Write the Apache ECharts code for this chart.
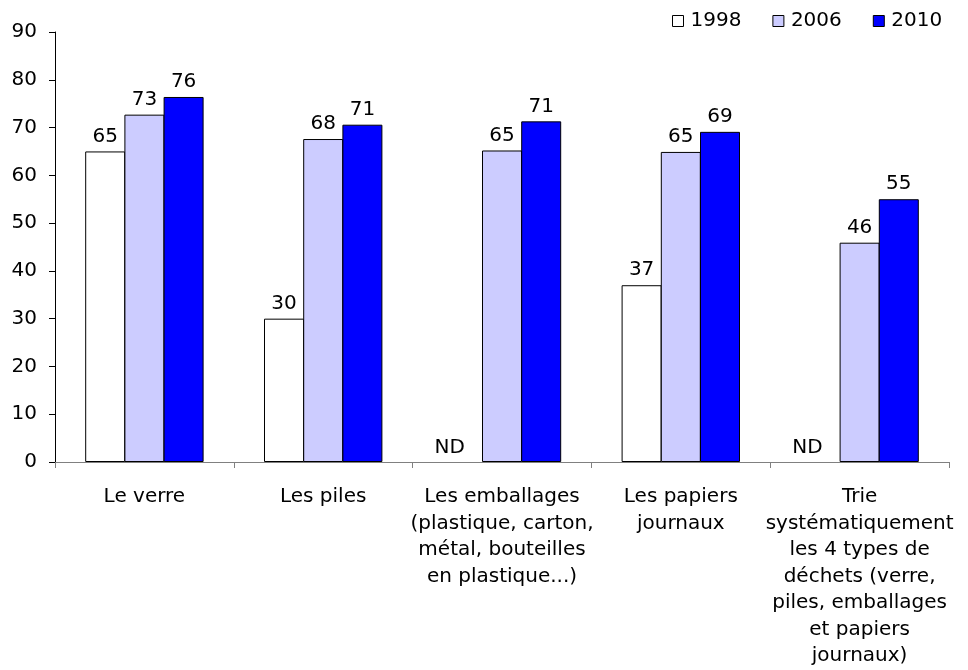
<!DOCTYPE html>
<html>
<head>
<meta charset="utf-8">
<script src="https://cdn.jsdelivr.net/npm/echarts@6/dist/echarts.min.js"></script>
<style>
  html, body { margin: 0; padding: 0; background: #fff; }
</style>
</head>
<body>
<div id="main" style="width:968px;height:670px"></div>
<script>
// categories (line breaks as in the original)
var categories = [
  "Le verre",
  "Les piles",
  "Les emballages\n(plastique, carton,\nmétal, bouteilles\nen plastique...)",
  "Les papiers\njournaux",
  "Trie\nsystématiquement\nles 4 types de\ndéchets (verre,\npiles, emballages\net papiers\njournaux)"
];
var years = ["1998", "2006", "2010"];
// bar heights; labels show them rounded. null = ND
var values1998 = [65, 30, null, 37, null];
var values2006 = [72.7, 67.6, 65.2, 64.9, 45.9];
var values2010 = [76.4, 70.6, 71.3, 69.1, 55];
var yTicks = { min: 0, max: 90, interval: 10 };

var FONT = "DejaVu Sans";
var colors = ["#FFFFFF", "#CCCCFF", "#0000FF"];

function toData(arr) {
  return arr.map(function (v) {
    if (v === null) {
      return {
        value: 0,
        itemStyle: { borderWidth: 0 },
        label: { formatter: "ND", offset: [-13, 0], distance: 4 }
      };
    }
    return v;
  });
}

function makeSeries(name, arr, color) {
  return {
    name: name,
    type: "bar",
    barWidth: 40,
    barGap: "-2%",
    data: toData(arr),
    itemStyle: { color: color, borderColor: "#000", borderWidth: 1 },
    label: {
      show: true,
      position: "top",
      distance: 5,
      color: "#000",
      fontFamily: FONT,
      fontSize: 20,
      formatter: function (p) { return Math.round(p.value); }
    }
  };
}

var chartDom = document.getElementById("main");
var myChart = echarts.init(chartDom);
var option = {
  animation: false,
  backgroundColor: "#fff",
  legend: {
    left: 672,
    top: 11,
    padding: 0,
    itemWidth: 11,
    itemHeight: 11,
    itemGap: 31,
    icon: "rect",
    textStyle: { fontFamily: FONT, fontSize: 20, color: "#000", padding: [0, 0, 0, 2] },
    itemStyle: { borderColor: "#000", borderWidth: 1 },
    data: years
  },
  grid: { left: 55, right: 19, top: 32, bottom: 208 },
  xAxis: {
    type: "category",
    data: categories,
    axisLine: { lineStyle: { color: "#808080", width: 1 } },
    axisTick: { show: true, length: 6, lineStyle: { color: "#808080" } },
    axisLabel: {
      interval: 0,
      margin: 22,
      color: "#000",
      fontFamily: FONT,
      fontSize: 20,
      lineHeight: 26.5,
      align: "center"
    }
  },
  yAxis: {
    type: "value",
    min: yTicks.min,
    max: yTicks.max,
    interval: yTicks.interval,
    splitLine: { show: false },
    axisLine: { show: true, lineStyle: { color: "#000", width: 1 } },
    axisTick: { show: true, length: 6, lineStyle: { color: "#000" } },
    axisLabel: { margin: 18, color: "#000", fontFamily: FONT, fontSize: 20 }
  },
  series: [
    makeSeries(years[0], values1998, colors[0]),
    makeSeries(years[1], values2006, colors[1]),
    makeSeries(years[2], values2010, colors[2])
  ]
};
option && myChart.setOption(option);
</script>
</body>
</html>
